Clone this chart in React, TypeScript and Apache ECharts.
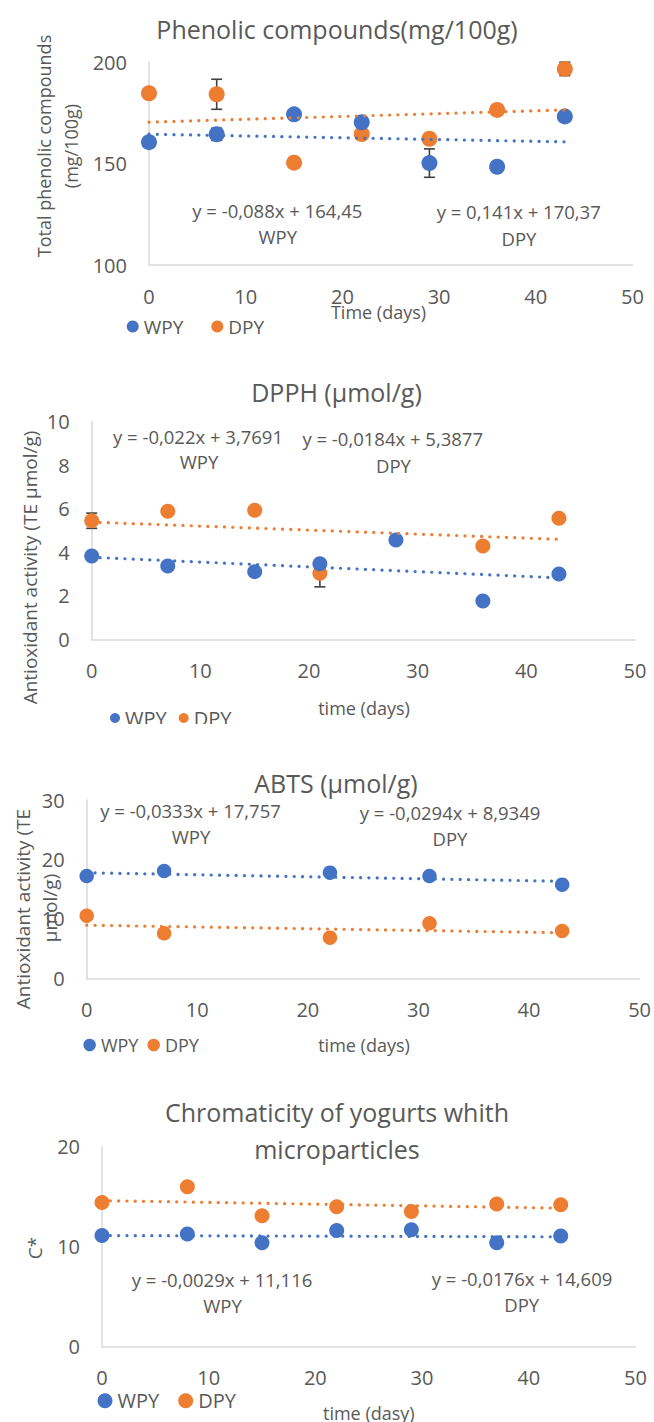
import React, { useEffect, useRef } from 'react';
import * as echarts from 'echarts';

const WPY_COLOR = '#4472C4';
const DPY_COLOR = '#ED7D31';
const TEXT = '#595959';
const AXIS = '#D9D9D9';
const ERR = '#404040';
const FONT = '"Open Sans", "Noto Sans", sans-serif';

// ---- Chart 1: Phenolic compounds (mg/100g)
const phenolDaysWPY = [0, 7, 15, 22, 29, 36, 43];
const phenolWPY = [160.5, 164.4, 174.2, 170.3, 150.2, 148.4, 173.2];
const phenolWPYErr = [0, 3, 0, 0, 7, 0, 0];
const phenolDaysDPY = [0, 7, 15, 22, 29, 36, 43];
const phenolDPY = [184.6, 184.1, 150.4, 164.5, 162.2, 176.4, 196.6];
const phenolDPYErr = [0, 7.4, 0, 0, 0, 0, 3.3];
const phenolTrendWPY = [-0.088, 164.45];
const phenolTrendDPY = [0.141, 170.37];
const phenolEquations = ['y = -0,088x + 164,45', 'WPY', 'y = 0,141x + 170,37', 'DPY'];

// ---- Chart 2: DPPH (µmol/g)
const dpphDaysWPY = [0, 7, 15, 21, 28, 36, 43];
const dpphWPY = [3.83, 3.37, 3.11, 3.47, 4.56, 1.76, 3.0];
const dpphWPYErr = [0, 0, 0, 0, 0, 0, 0];
const dpphDaysDPY = [0, 7, 15, 21, 36, 43];
const dpphDPY = [5.45, 5.88, 5.93, 3.03, 4.29, 5.56];
const dpphDPYErr = [0.35, 0, 0, 0.62, 0, 0];
const dpphTrendWPY = [-0.022, 3.7691];
const dpphTrendDPY = [-0.0184, 5.3877];
const dpphEquations = ['y = -0,022x + 3,7691', 'WPY', 'y = -0,0184x + 5,3877', 'DPY'];

// ---- Chart 3: ABTS (µmol/g)
const abtsDays = [0, 7, 22, 31, 43];
const abtsWPY = [17.2, 18.06, 17.78, 17.2, 15.76];
const abtsDPY = [10.54, 7.57, 6.84, 9.25, 7.96];
const abtsErr = [0, 0, 0, 0, 0];
const abtsTrendWPY = [-0.0333, 17.757];
const abtsTrendDPY = [-0.0294, 8.9349];
const abtsEquations = ['y = -0,0333x + 17,757', 'WPY', 'y = -0,0294x + 8,9349', 'DPY'];

// ---- Chart 4: Chromaticity
const chromaDays = [0, 8, 15, 22, 29, 37, 43];
const chromaWPY = [11.13, 11.27, 10.4, 11.63, 11.7, 10.4, 11.07];
const chromaDPY = [14.43, 16.0, 13.1, 14.0, 13.53, 14.27, 14.2];
const chromaErr = [0, 0, 0, 0, 0, 0, 0];
const chromaTrendWPY = [-0.0029, 11.116];
const chromaTrendDPY = [-0.0176, 14.609];
const chromaEquations = ['y = -0,0029x + 11,116', 'WPY', 'y = -0,0176x + 14,609', 'DPY'];

const trendEndDay = 43;
const xTicks = { min: 0, max: 50, interval: 10 };
const legendNames = ['WPY', 'DPY'];

type Panel = {
  grid: { left: number; top: number; width: number; height: number };
  y: { min: number; max: number; interval: number };
  wDays: number[]; wVals: number[]; wErr: number[];
  dDays: number[]; dVals: number[]; dErr: number[];
  wTrend: number[]; dTrend: number[];
  symbolSize: number;
  legend: { left: number; top: number; size: number; gap: number; font: number };
};

const panels: Panel[] = [
  {
    grid: { left: 149, top: 62, width: 483.5, height: 203 },
    y: { min: 100, max: 200, interval: 50 },
    wDays: phenolDaysWPY, wVals: phenolWPY, wErr: phenolWPYErr,
    dDays: phenolDaysDPY, dVals: phenolDPY, dErr: phenolDPYErr,
    wTrend: phenolTrendWPY, dTrend: phenolTrendDPY,
    symbolSize: 16,
    legend: { left: 126.7, top: 317, size: 12, gap: 28, font: 19 },
  },
  {
    grid: { left: 91.7, top: 421.7, width: 543.3, height: 217.6 },
    y: { min: 0, max: 10, interval: 2 },
    wDays: dpphDaysWPY, wVals: dpphWPY, wErr: dpphWPYErr,
    dDays: dpphDaysDPY, dVals: dpphDPY, dErr: dpphDPYErr,
    wTrend: dpphTrendWPY, dTrend: dpphTrendDPY,
    symbolSize: 15,
    legend: { left: 110, top: 708, size: 10, gap: 12, font: 20 },
  },
  {
    grid: { left: 86.7, top: 800, width: 553, height: 178.3 },
    y: { min: 0, max: 30, interval: 10 },
    wDays: abtsDays, wVals: abtsWPY, wErr: abtsErr,
    dDays: abtsDays, dVals: abtsDPY, dErr: abtsErr,
    wTrend: abtsTrendWPY, dTrend: abtsTrendDPY,
    symbolSize: 14.5,
    legend: { left: 83.4, top: 1036, size: 12.5, gap: 9, font: 18 },
  },
  {
    grid: { left: 102, top: 1146.7, width: 533.4, height: 200 },
    y: { min: 0, max: 20, interval: 10 },
    wDays: chromaDays, wVals: chromaWPY, wErr: chromaErr,
    dDays: chromaDays, dVals: chromaDPY, dErr: chromaErr,
    wTrend: chromaTrendWPY, dTrend: chromaTrendDPY,
    symbolSize: 15,
    legend: { left: 97.5, top: 1390.7, size: 15, gap: 19, font: 20 },
  },
];

const equationSets = [phenolEquations, dpphEquations, abtsEquations, chromaEquations];
const equationPos = [
  [[277.3, 210], [277.7, 236], [518.7, 211.7], [519, 238.3]],
  [[198, 436], [199, 461.7], [392.7, 438.3], [393.5, 465.7]],
  [[190.5, 810.7], [191, 836.7], [450, 812.7], [450, 838.7]],
  [[222, 1279.3], [222.5, 1305.3], [522, 1278], [521.7, 1304]],
];

const titles: [string, number, number][] = [
  ['Phenolic compounds(mg/100g)', 337, 29],
  ['DPPH (µmol/g)', 336.5, 392],
  ['ABTS (µmol/g)', 336, 782.5],
  ['Chromaticity of yogurts whith', 337, 1112],
  ['microparticles', 337, 1149],
];

const yTitles: [string, number, number, number][] = [
  ['Total phenolic compounds', 44, 146, 18],
  ['(mg/100g)', 71, 146, 18],
  ['Antioxidant activity (TE µmol/g)', 30, 567.5, 19],
  ['Antioxidant activity (TE', 23, 909, 19],
  ['µmol/g)', 50, 908, 19],
  ['C*', 35.4, 1248, 19],
];

const xTitles: [string, number, number][] = [
  ['Time (days)', 378.5, 312],
  ['time (days)', 364, 708],
  ['time (days)', 364, 1045],
  ['time (dasy)', 368.8, 1413],
];

function errData(days: number[], vals: number[], err: number[]) {
  const out: number[][] = [];
  days.forEach((d, i) => {
    if (err[i] > 0) out.push([d, vals[i] - err[i], vals[i] + err[i]]);
  });
  return out;
}

function renderErr(params: any, api: any) {
  const x = api.value(0);
  const p1 = api.coord([x, api.value(1)]);
  const p2 = api.coord([x, api.value(2)]);
  const w = 5.5;
  const style = { stroke: ERR, lineWidth: 1.6 };
  return {
    type: 'group',
    children: [
      { type: 'line', shape: { x1: p1[0], y1: p1[1], x2: p2[0], y2: p2[1] }, style },
      { type: 'line', shape: { x1: p1[0] - w, y1: p1[1], x2: p1[0] + w, y2: p1[1] }, style },
      { type: 'line', shape: { x1: p2[0] - w, y1: p2[1], x2: p2[0] + w, y2: p2[1] }, style },
    ],
  };
}

function trendLine(t: number[]) {
  return [
    [0, t[1]],
    [trendEndDay, t[0] * trendEndDay + t[1]],
  ];
}

function buildOption() {
  const grid: any[] = [];
  const xAxis: any[] = [];
  const yAxis: any[] = [];
  const series: any[] = [];
  const legend: any[] = [];
  const graphic: any[] = [];

  panels.forEach((p, i) => {
    grid.push({ ...p.grid });
    xAxis.push({
      type: 'value',
      gridIndex: i,
      ...xTicks,
      axisLine: { show: true, onZero: false, lineStyle: { color: AXIS, width: 1.5 } },
      axisTick: { show: false },
      splitLine: { show: false },
      axisLabel: { color: TEXT, fontSize: 20, fontFamily: FONT, margin: 21 },
    });
    yAxis.push({
      type: 'value',
      gridIndex: i,
      ...p.y,
      axisLine: { show: true, onZero: false, lineStyle: { color: AXIS, width: 1.5 } },
      axisTick: { show: false },
      splitLine: { show: false },
      axisLabel: { color: TEXT, fontSize: 20, fontFamily: FONT, margin: 22 },
    });
    const dErr = errData(p.dDays, p.dVals, p.dErr);
    const wErr = errData(p.wDays, p.wVals, p.wErr);
    series.push({
      name: 'DPY error', type: 'custom', xAxisIndex: i, yAxisIndex: i, z: 2,
      renderItem: renderErr, encode: { x: 0, y: [1, 2] }, data: dErr, silent: true,
    });
    series.push({
      name: 'WPY error', type: 'custom', xAxisIndex: i, yAxisIndex: i, z: 2,
      renderItem: renderErr, encode: { x: 0, y: [1, 2] }, data: wErr, silent: true,
    });
    series.push({
      name: 'DPY', type: 'scatter', xAxisIndex: i, yAxisIndex: i, z: 3,
      symbolSize: p.symbolSize, itemStyle: { color: DPY_COLOR, opacity: 1 },
      data: p.dDays.map((d, k) => [d, p.dVals[k]]),
    });
    series.push({
      name: 'WPY', type: 'scatter', xAxisIndex: i, yAxisIndex: i, z: 4,
      symbolSize: p.symbolSize, itemStyle: { color: WPY_COLOR, opacity: 1 },
      data: p.wDays.map((d, k) => [d, p.wVals[k]]),
    });
    [
      ['WPY trend', p.wTrend, WPY_COLOR],
      ['DPY trend', p.dTrend, DPY_COLOR],
    ].forEach(([name, t, color]: any) => {
      series.push({
        name, type: 'line', xAxisIndex: i, yAxisIndex: i, z: 5,
        data: trendLine(t), symbol: 'none', showSymbol: false, silent: true,
        lineStyle: { color, width: 3.2, type: [0.1, 8.2], cap: 'round' },
      });
    });
    legend.push({
      data: legendNames,
      left: p.legend.left,
      top: p.legend.top,
      padding: 0,
      icon: 'circle',
      itemWidth: p.legend.size,
      itemHeight: p.legend.size,
      itemGap: p.legend.gap,
      selectedMode: false,
      textStyle: { color: TEXT, fontSize: p.legend.font, fontFamily: FONT },
    });
    equationSets[i].forEach((txt, k) => {
      graphic.push({
        type: 'text', x: equationPos[i][k][0], y: equationPos[i][k][1], z: 10,
        style: { text: txt, fill: TEXT, fontSize: 18.5, fontFamily: FONT, align: 'center', verticalAlign: 'middle' },
      });
    });
  });

  titles.forEach(([t, x, y]) => {
    graphic.push({
      type: 'text', x, y, z: 10,
      style: { text: t, fill: TEXT, fontSize: 25, fontFamily: FONT, align: 'center', verticalAlign: 'middle' },
    });
  });
  yTitles.forEach(([t, x, y, fs]) => {
    graphic.push({
      type: 'text', x, y, rotation: Math.PI / 2, z: 10,
      style: { text: t, fill: TEXT, fontSize: fs, fontFamily: FONT, align: 'center', verticalAlign: 'middle' },
    });
  });
  xTitles.forEach(([t, x, y]) => {
    graphic.push({
      type: 'text', x, y, z: 10,
      style: { text: t, fill: TEXT, fontSize: 18, fontFamily: FONT, align: 'center', verticalAlign: 'middle' },
    });
  });
  // the second chart's legend is cut off by the third panel in the reference
  graphic.push({
    type: 'rect', x: 0, y: 724, z: 100,
    shape: { x: 0, y: 0, width: 300, height: 30 },
    style: { fill: '#ffffff' },
  });

  return {
    animation: false,
    backgroundColor: '#ffffff',
    grid,
    xAxis,
    yAxis,
    legend,
    series,
    graphic,
  };
}

export default function App() {
  const ref = useRef<HTMLDivElement>(null);
  useEffect(() => {
    if (!ref.current) return;
    const chart = echarts.init(ref.current, null, { renderer: 'svg' });
    chart.setOption(buildOption() as any);
    return () => chart.dispose();
  }, []);
  return (
    <div
      ref={ref}
      style={{ position: 'absolute', left: 0, top: 0, width: 654, height: 1422, background: '#fff' }}
    />
  );
}
